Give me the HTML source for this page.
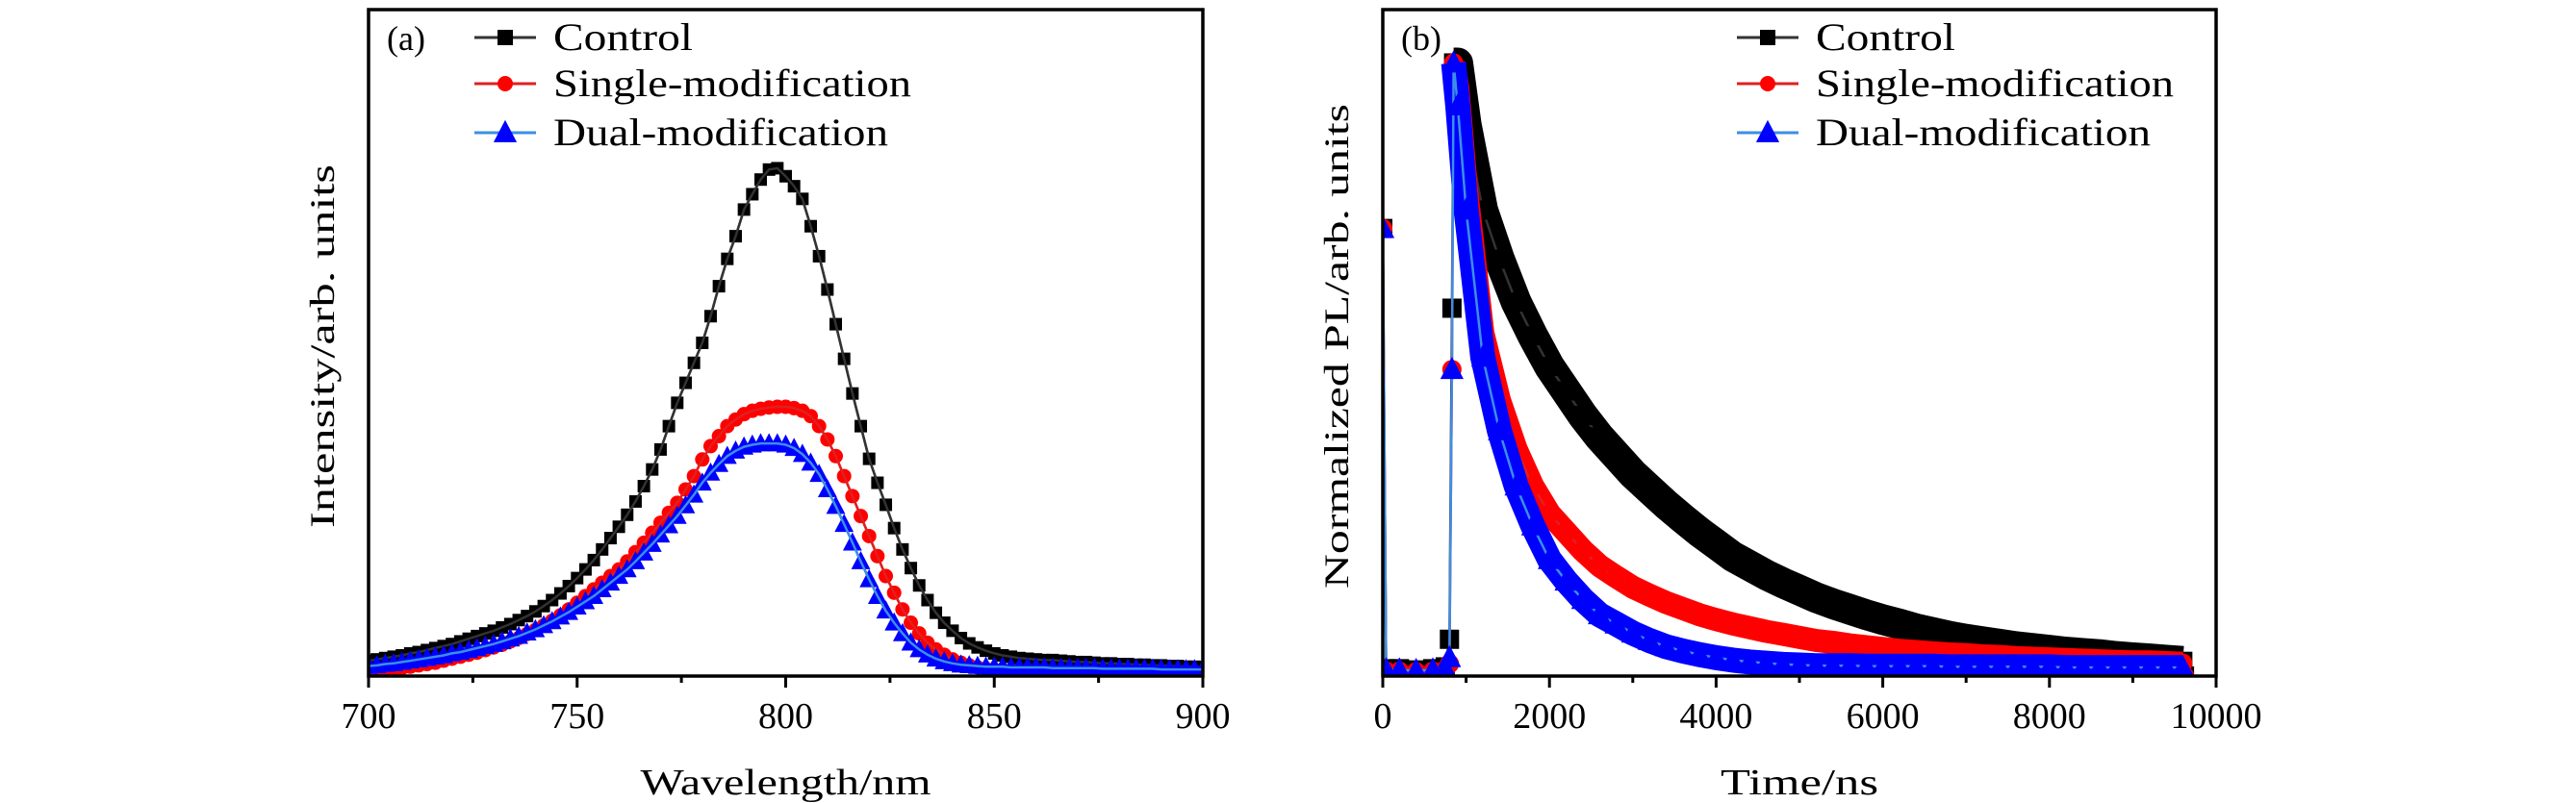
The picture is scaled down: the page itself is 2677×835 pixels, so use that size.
<!DOCTYPE html>
<html><head><meta charset="utf-8"><style>
html,body{margin:0;padding:0;background:#fff;}
svg{display:block;font-family:"Liberation Serif",serif;}
</style></head><body>
<svg id="chart" width="2677" height="835" viewBox="0 0 2677 835" xmlns="http://www.w3.org/2000/svg">
<g id="pa"></g>
<g id="pb"></g>
</svg>
<script>
// Panel (a) data
const wavelengths = [];
for (let w = 700; w <= 900; w += 2) wavelengths.push(w);
const controlPL = [.023,.025,.027,.029,.031,.034,.036,.039,.042,.045,.048,.052,.056,.060,.064,.068,.073,.078,.084,.090,.097,.105,.114,.124,.135,.147,.160,.174,.190,.207,.224,.242,.262,.285,.31,.34,.375,.41,.44,.47,.50,.54,.585,.626,.66,.70,.723,.745,.76,.762,.75,.735,.716,.675,.63,.58,.528,.476,.424,.375,.326,.29,.257,.222,.19,.162,.136,.114,.095,.08,.068,.057,.049,.043,.038,.034,.031,.029,.027,.026,.025,.024,.024,.023,.022,.021,.021,.020,.019,.019,.018,.018,.017,.017,.016,.016,.015,.015,.014,.014,.013];
const singlePL = [.004,.006,.008,.010,.012,.014,.016,.018,.020,.023,.026,.029,.032,.035,.039,.043,.047,.052,.057,.063,.069,.076,.083,.091,.10,.11,.12,.13,.14,.15,.16,.172,.186,.20,.215,.23,.245,.26,.28,.30,.325,.345,.36,.375,.385,.393,.398,.401,.403,.404,.404,.402,.398,.39,.375,.355,.33,.30,.27,.24,.21,.18,.15,.125,.10,.08,.064,.05,.04,.032,.025,.02,.016,.013,.011,.009,.008,.007,.006,.006,.005,.005,.005,.005,.004,.004,.004,.004,.004,.003,.003,.003,.003,.003,.003,.002,.002,.002,.002,.002,.002];
const dualPL = [.015,.016,.018,.019,.021,.023,.025,.027,.029,.031,.034,.036,.039,.042,.045,.048,.052,.056,.06,.065,.07,.076,.082,.089,.096,.104,.112,.12,.13,.14,.15,.16,.172,.185,.198,.212,.226,.24,.256,.272,.29,.305,.318,.33,.338,.344,.347,.349,.349,.349,.347,.342,.333,.32,.303,.28,.255,.228,.2,.172,.145,.12,.098,.08,.064,.05,.04,.032,.026,.022,.019,.017,.016,.015,.014,.014,.014,.013,.013,.013,.013,.013,.012,.012,.012,.012,.012,.012,.011,.011,.011,.011,.011,.011,.011,.010,.010,.010,.010,.010,.010];
const xTicksA = [700,750,800,850,900];
// Panel (b) data
const times = [0,40,200,400,600,750,800,830,850,900,1000,1200,1400,1600,1800,2000,2200,2400,2600,2800,3000,3200,3400,3600,3800,4000,4200,4400,4600,4800,5000,5200,5400,5600,5800,6000,6200,6400,6600,6800,7000,7200,7400,7600,7800,8000,8200,8400,8600,8800,9000,9200,9400,9600,9620];
const controlDecay = [.73,.012,.012,.01,.012,.015,.06,.6,1.0,1.0,.90,.76,.68,.61,.555,.505,.465,.425,.39,.36,.33,.305,.28,.257,.235,.215,.195,.18,.165,.152,.14,.128,.118,.109,.10,.092,.085,.077,.071,.065,.06,.056,.052,.048,.045,.042,.039,.037,.035,.032,.03,.028,.026,.024,0];
const singleDecay = [.73,.008,.008,.007,.008,.01,.02,.5,1.0,.96,.80,.56,.45,.37,.31,.265,.235,.205,.18,.162,.145,.132,.12,.11,.10,.092,.085,.079,.073,.068,.063,.058,.055,.051,.048,.045,.042,.04,.038,.036,.035,.033,.032,.03,.029,.028,.027,.026,.025,.024,.023,.023,.022,.021,0];
const dualDecay = [.73,.01,.01,.009,.01,.012,.03,.5,1.0,.93,.76,.52,.40,.31,.245,.19,.155,.125,.10,.085,.07,.058,.048,.041,.035,.03,.026,.023,.021,.019,.018,.017,.017,.017,.016,.016,.016,.016,.016,.015,.015,.015,.015,.015,.015,.015,.014,.014,.014,.014,.014,.014,.014,.014,0];
const xTicksB = [0,2000,4000,6000,8000,10000];

const NS = "http://www.w3.org/2000/svg";
function mk(parent, tag, attrs, text) {
  const e = document.createElementNS(NS, tag);
  for (const k in attrs) e.setAttribute(k, attrs[k]);
  if (text !== undefined) e.textContent = text;
  parent.appendChild(e);
  return e;
}
const TOP = 10, BOT = 703;

function marker(g, type, x, y, color, s) {
  let m;
  if (type === 'sq') m = mk(g, 'rect', {x: x - s/2, y: y - s/2, width: s, height: s, fill: color});
  else if (type === 'ci') m = mk(g, 'circle', {cx: x, cy: y, r: s/2, fill: color});
  else m = mk(g, 'polygon', {points: `${x},${y - s*0.6} ${x - s*0.55},${y + s*0.45} ${x + s*0.55},${y + s*0.45}`, fill: color});
  return m;
}

function drawPanel(g, L, R, xmin, xmax, ymax, xs, series, ticks, minorStep, xTitle, yTitle, yTitleLen, xTitleLen, label, legX) {
  const sx = v => L + (v - xmin) / (xmax - xmin) * (R - L);
  const sy = v => BOT - v / ymax * (BOT - TOP);
  const clip = mk(g, 'clipPath', {id: 'clip' + L});
  mk(clip, 'rect', {x: L, y: TOP, width: R - L, height: BOT - TOP});
  series.forEach(s => {
    const sg = mk(g, 'g', {'clip-path': `url(#clip${L})`});
    
    
    const pts = s.vals.map((v, i) => sx(xs[i]).toFixed(1) + ',' + sy(v).toFixed(1)).join(' ');
    if (s.band) {
      const bpts = s.vals.map((v, i) => [xs[i], v]).filter(p => p[0] >= 850 && p[0] <= 9600)
        .map(p => sx(p[0]).toFixed(1) + ',' + sy(p[1]).toFixed(1)).join(' ');
      const b = mk(sg, 'polyline', {points: bpts, fill: 'none', stroke: s.color, 'stroke-width': s.band, 'stroke-linejoin': 'round'});
      
      
    }
    const pl = mk(sg, 'polyline', {points: pts, fill: 'none', stroke: s.line, 'stroke-width': 2.5, 'stroke-linejoin': 'round'});
    
    
    s.vals.forEach((v, i) => {
      const m = marker(sg, s.type, sx(xs[i]), sy(v), s.color, s.size);
      
      
    });
    if (!s.band) {
      const l2 = mk(sg, 'polyline', {points: pts, fill: 'none', stroke: s.line, 'stroke-width': 2.5});
      
      
    }
  });
  const fr = mk(g, 'rect', {x: L, y: TOP, width: R - L, height: BOT - TOP, fill: 'none', stroke: '#000', 'stroke-width': 3.5});
  
  
  for (let v = xmin; v <= xmax + 1e-9; v += minorStep) {
    const major = ticks.some(t => Math.abs(t - v) < 1e-6);
    const t = mk(g, 'line', {x1: sx(v), x2: sx(v), y1: BOT, y2: BOT + (major ? 12 : 7), stroke: '#000', 'stroke-width': 3});
    
    
  }
  ticks.forEach(v => {
    const t = mk(g, 'text', {x: sx(v), y: 757, 'text-anchor': 'middle', 'font-size': 38}, String(v));
    
    
  });
  const xt = mk(g, 'text', {x: (L + R) / 2, y: 826, 'text-anchor': 'middle', 'font-size': 38, textLength: xTitleLen, lengthAdjust: 'spacingAndGlyphs'}, xTitle);
  
  
  const yx = L - 36;
  const yt = mk(g, 'text', {x: 0, y: 0, transform: `translate(${yx},360) rotate(-90)`, 'text-anchor': 'middle', 'font-size': 36, textLength: yTitleLen, lengthAdjust: 'spacingAndGlyphs'}, yTitle);
  
  
  const pl = mk(g, 'text', {x: L + 19, y: 52, 'font-size': 36}, label);
  
  
  const lg = mk(g, 'g', {});
  
  
  const rows = [39, 87, 138];
  series.forEach((s, i) => {
    const eg = mk(lg, 'g', {});
    
    
    mk(eg, 'line', {x1: legX, x2: legX + 64, y1: rows[i], y2: rows[i], stroke: s.line, 'stroke-width': 3});
    marker(eg, s.type, legX + 32, rows[i], s.color, s.type === 'tr' ? 22 : 16);
    mk(eg, 'text', {x: legX + 82, y: rows[i] + 13, 'font-size': 40, textLength: s.legLen, lengthAdjust: 'spacingAndGlyphs'}, s.label);
  });
}

drawPanel(document.getElementById('pa'), 383, 1250, 700, 900, 1.0, wavelengths, [
  {name: 'control', label: 'Control', vals: controlPL, color: '#000', line: '#333', type: 'sq', size: 13, legLen: 145},
  {name: 'single-modification', label: 'Single-modification', vals: singlePL, color: '#ff0000', line: '#e02020', type: 'ci', size: 15, legLen: 372},
  {name: 'dual-modification', label: 'Dual-modification', vals: dualPL, color: '#0000ff', line: '#3b8fe6', type: 'tr', size: 18, legLen: 348}
], xTicksA, 25, 'Wavelength/nm', 'Intensity/arb. units', 378, 302, '(a)', 493);

drawPanel(document.getElementById('pb'), 1437, 2303, 0, 10000, 1.087, times, [
  {name: 'control', label: 'Control', vals: controlDecay, color: '#000', line: '#333', type: 'sq', size: 20, legLen: 145, band: 32},
  {name: 'single-modification', label: 'Single-modification', vals: singleDecay, color: '#ff0000', line: '#e02020', type: 'ci', size: 20, legLen: 372, band: 24},
  {name: 'dual-modification', label: 'Dual-modification', vals: dualDecay, color: '#0000ff', line: '#3b8fe6', type: 'tr', size: 22, legLen: 348, band: 26}
], xTicksB, 1000, 'Time/ns', 'Normalized PL/arb. units', 504, 164, '(b)', 1805);
</script>
</body></html>
